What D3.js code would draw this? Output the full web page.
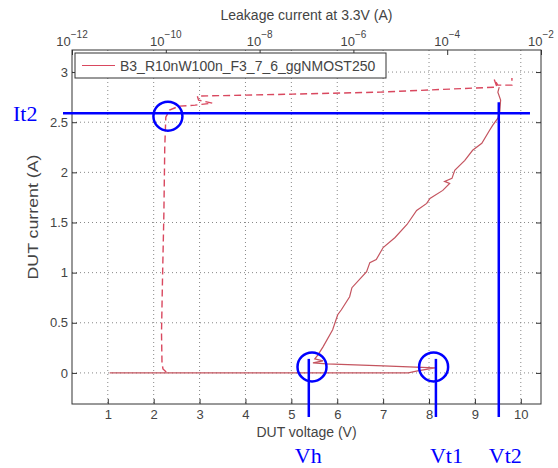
<!DOCTYPE html>
<html>
<head>
<meta charset="utf-8">
<script src="https://cdn.jsdelivr.net/npm/d3@7"></script>
<style>
  body { margin: 0; background: #fff; }
  svg text { font-family: "Liberation Sans", Arial, sans-serif; }
</style>
</head>
<body>
<svg id="tlp-chart" width="558" height="468"></svg>
<script>
// I-V curve (DUT voltage V, DUT current A)
const ivVoltage = [1.04, 7.55, 7.75, 8.13, 7.0, 5.77, 5.47, 5.69, 5.51, 5.58, 5.69, 5.90, 6.01, 6.09, 6.27, 6.32,
  6.64, 6.71, 6.85, 7.0, 7.26, 7.52, 7.73, 7.95, 8.02, 8.30, 8.45, 8.34, 8.50, 8.56, 8.78, 8.95, 9.15, 9.32,
  9.39, 9.50, 9.54, 9.56, 9.50, 9.53];
const ivCurrent = [0.0, 0.0, 0.02, 0.05, 0.07, 0.09, 0.10, 0.12, 0.14, 0.18, 0.26, 0.43, 0.58, 0.63, 0.76, 0.85,
  1.01, 1.10, 1.13, 1.25, 1.35, 1.48, 1.62, 1.69, 1.74, 1.82, 1.89, 1.91, 1.94, 2.02, 2.12, 2.22, 2.29, 2.42,
  2.47, 2.54, 2.60, 2.72, 2.80, 2.85];

// leakage current at 3.3V (A) vs DUT current (A)
const leakCurrent = [1.02e-10, 8.7e-11, 8.3e-11, 8.1e-11, 8.5e-11, 9.1e-11, 9.5e-11, 1.0e-10, 1.2e-10, 1.9e-10,
  4.2e-10, 9.8e-10, 5.0e-10, 4.7e-10, 5.1e-8, 3.7e-6, 3.5e-4, 1.15e-3, 1.0e-3, 1.2e-3, 2.4e-3, 2.4e-3];
const leakDutCurrent = [0.01, 0.04, 0.10, 0.40, 0.93, 1.59, 2.25, 2.55, 2.62, 2.66,
  2.67, 2.69, 2.72, 2.76, 2.78, 2.80, 2.84, 2.85, 2.93, 2.87, 2.87, 2.94];

const xTicks = [1, 2, 3, 4, 5, 6, 7, 8, 9, 10];
const yTicks = [0, 0.5, 1, 1.5, 2, 2.5, 3];
const topTicks = [-12, -10, -8, -6, -4, -2];

// annotation values
const markNames = ["Vh", "Vt1", "Vt2"];
const markVoltages = [5.38, 8.15, 9.52];
const it2Current = 2.59;
const circleV = [2.31, 5.45, 8.10];
const circleI = [2.56, 0.06, 0.06];

const legendLabel = "B3_R10nW100n_F3_7_6_ggNMOST250";

function initTlpChart() {
  const svg = d3.select("#tlp-chart");
  const box = { left: 72, right: 541, top: 50, bottom: 404 };

  const x = d3.scaleLinear().domain([0.22, 10.44]).range([box.left, box.right]);
  const y = d3.scaleLinear().domain([-0.31, 3.22]).range([box.bottom, box.top]);
  const xTop = d3.scaleLog().domain([1e-12, 1e-2]).range([box.left, box.right]);

  const axisColor = "#333";
  const textColor = "#444";

  // dotted grid
  const grid = svg.append("g");
  grid.selectAll("line.gx")
    .data(xTicks)
    .enter()
    .append("line")
    .attr("x1", d => x(d)).attr("x2", d => x(d))
    .attr("y1", box.top).attr("y2", box.bottom)
    .attr("stroke", "#888").attr("stroke-width", 1)
    .attr("stroke-dasharray", "1,3");
  grid.selectAll("line.gy")
    .data(yTicks)
    .enter()
    .append("line")
    .attr("x1", box.left).attr("x2", box.right)
    .attr("y1", d => y(d)).attr("y2", d => y(d))
    .attr("stroke", "#888").attr("stroke-width", 1)
    .attr("stroke-dasharray", "1,3");

  // axes (MATLAB-like, inward ticks)
  svg.append("g")
    .attr("transform", `translate(0,${box.bottom})`)
    .call(d3.axisBottom(x).tickValues(xTicks).tickSizeInner(-5).tickSizeOuter(0).tickPadding(6))
    .call(g => g.select(".domain").remove());
  svg.append("g")
    .attr("transform", `translate(${box.left},0)`)
    .call(d3.axisLeft(y).tickValues(yTicks).tickSizeInner(-5).tickSizeOuter(0).tickPadding(4)
      .tickFormat(d3.format("")))
    .call(g => g.select(".domain").remove());
  svg.append("g")
    .attr("transform", `translate(${box.right},0)`)
    .call(d3.axisRight(y).tickValues(yTicks).tickSizeInner(-5).tickSizeOuter(0).tickFormat(""))
    .call(g => g.select(".domain").remove());
  svg.append("g")
    .attr("transform", `translate(0,${box.top})`)
    .call(d3.axisTop(xTop).tickValues(topTicks.map(p => Math.pow(10, p))).tickSizeInner(-5).tickSizeOuter(0).tickFormat(""))
    .call(g => g.select(".domain").remove());

  svg.selectAll(".tick line").attr("stroke", axisColor);
  svg.selectAll(".tick text")
    .attr("fill", textColor)
    .style("font-family", "'Liberation Sans', Arial, sans-serif")
    .style("font-size", "13px");

  // top log labels 10^p
  const topLabels = svg.append("g");
  topTicks.forEach(p => {
    const t = topLabels.append("text")
      .attr("x", xTop(Math.pow(10, p)))
      .attr("y", 46)
      .attr("text-anchor", "middle")
      .attr("fill", textColor)
      .style("font-size", "13px");
    t.append("tspan").text("10");
    t.append("tspan").attr("dy", -8).style("font-size", "10px").text("\u2212" + Math.abs(p));
  });

  svg.append("rect")
    .attr("x", box.left).attr("y", box.top)
    .attr("width", box.right - box.left).attr("height", box.bottom - box.top)
    .attr("fill", "none").attr("stroke", axisColor).attr("stroke-width", 1);

  // axis labels
  svg.append("text")
    .attr("x", (box.left + box.right) / 2).attr("y", 20)
    .attr("text-anchor", "middle").attr("fill", textColor)
    .style("font-size", "14px")
    .text("Leakage current at 3.3V (A)");
  svg.append("text")
    .attr("x", (box.left + box.right) / 2).attr("y", 437)
    .attr("text-anchor", "middle").attr("fill", textColor)
    .style("font-size", "14px")
    .text("DUT voltage (V)");
  svg.append("text")
    .attr("transform", "translate(38,217) rotate(-90)")
    .attr("text-anchor", "middle").attr("fill", textColor)
    .style("font-size", "14px")
    .attr("textLength", 125).attr("lengthAdjust", "spacingAndGlyphs")
    .text("DUT current (A)");

  // curves
  const ivData = ivVoltage.map((v, i) => ({ v: v, i: ivCurrent[i] }));
  const leakData = leakCurrent.map((l, i) => ({ l: l, i: leakDutCurrent[i] }));

  svg.append("path")
    .datum(leakData)
    .attr("fill", "none")
    .attr("stroke", "#d9485f")
    .attr("stroke-width", 1.4)
    .attr("stroke-dasharray", "7,4")
    .attr("d", d3.line().x(d => xTop(d.l)).y(d => y(d.i)));

  svg.append("path")
    .datum(ivData)
    .attr("fill", "none")
    .attr("stroke", "#c4545f")
    .attr("stroke-width", 1.2)
    .attr("d", d3.line().x(d => x(d.v)).y(d => y(d.i)));

  // legend
  const legend = svg.append("g").attr("transform", "translate(75,53)");
  legend.append("rect")
    .attr("width", 311).attr("height", 25)
    .attr("fill", "#fff").attr("stroke", axisColor).attr("stroke-width", 1);
  legend.append("line")
    .attr("x1", 7).attr("x2", 40).attr("y1", 12.5).attr("y2", 12.5)
    .attr("stroke", "#d9485f").attr("stroke-width", 1.2);
  legend.append("text")
    .attr("x", 45).attr("y", 17.5)
    .attr("fill", textColor)
    .style("font-size", "14px")
    .text(legendLabel);

  // blue annotations
  const blue = "#0000ff";
  const ann = svg.append("g");
  ann.append("line")
    .attr("x1", 63).attr("x2", x(10.2))
    .attr("y1", y(it2Current)).attr("y2", y(it2Current))
    .attr("stroke", blue).attr("stroke-width", 2.5);
  ann.append("text")
    .attr("x", 13).attr("y", y(it2Current) + 8)
    .attr("fill", blue)
    .style("font-family", "'Liberation Serif', 'Times New Roman', serif")
    .style("font-size", "22px")
    .text("It2");

  ann.selectAll("line.v")
    .data(markVoltages)
    .enter()
    .append("line")
    .attr("x1", d => x(d)).attr("x2", d => x(d))
    .attr("y1", (d, i) => i === 2 ? y(2.70) : y(0.14))
    .attr("y2", 417)
    .attr("stroke", blue).attr("stroke-width", 2.5);

  const labelOffsets = [-14, -6, -10];
  ann.selectAll("text.v")
    .data(markNames)
    .enter()
    .append("text")
    .attr("x", (d, i) => x(markVoltages[i]) + labelOffsets[i])
    .attr("y", 463)
    .attr("fill", blue)
    .style("font-family", "'Liberation Serif', 'Times New Roman', serif")
    .style("font-size", "22px")
    .text(d => d);

  ann.selectAll("circle")
    .data(circleV)
    .enter()
    .append("circle")
    .attr("cx", d => x(d))
    .attr("cy", (d, i) => y(circleI[i]))
    .attr("r", 14.5)
    .attr("fill", "none")
    .attr("stroke", blue).attr("stroke-width", 2.5);
}

initTlpChart();
</script>
</body>
</html>
